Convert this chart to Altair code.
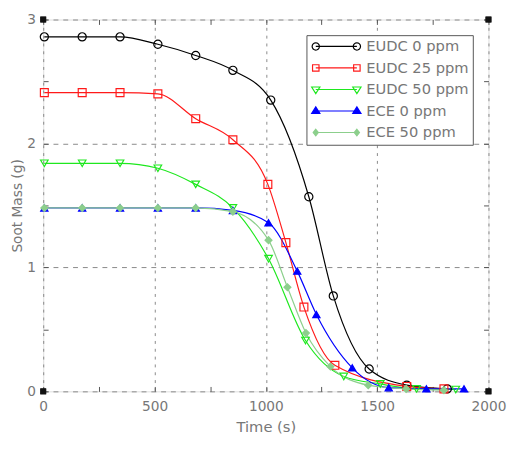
import math
import altair as alt
import pandas as pd

# ---------------- data ----------------
names = ["EUDC 0 ppm", "EUDC 25 ppm", "EUDC 50 ppm", "ECE 0 ppm", "ECE 50 ppm"]

t_eudc0 = [5, 175, 345, 515, 685, 852, 1022, 1193, 1303, 1464, 1633, 1815]
m_eudc0 = [2.86, 2.86, 2.86, 2.80, 2.71, 2.59, 2.35, 1.57, 0.77, 0.18, 0.05, 0.02]

t_eudc25 = [5, 175, 345, 515, 685, 852, 1009, 1090, 1171, 1310, 1633, 1800]
m_eudc25 = [2.41, 2.41, 2.41, 2.40, 2.20, 2.03, 1.67, 1.20, 0.68, 0.21, 0.04, 0.02]

t_eudc50 = [5, 175, 345, 515, 685, 852, 1012, 1178, 1350, 1514, 1677, 1853]
m_eudc50 = [1.84, 1.84, 1.84, 1.80, 1.67, 1.48, 1.07, 0.41, 0.12, 0.06, 0.02, 0.015]

t_ece0 = [5, 175, 345, 515, 685, 852, 1012, 1141, 1227, 1388, 1552, 1721, 1890]
m_ece0 = [1.48, 1.48, 1.48, 1.48, 1.48, 1.46, 1.36, 0.97, 0.62, 0.19, 0.03, 0.02, 0.02]

t_ece50 = [5, 175, 345, 515, 685, 852, 1012, 1097, 1180, 1290, 1460, 1630, 1800]
m_ece50 = [1.48, 1.48, 1.48, 1.48, 1.48, 1.45, 1.22, 0.84, 0.47, 0.20, 0.05, 0.02, 0.01]

corner_t = [0, 2000, 0, 2000]
corner_m = [0, 0, 3, 3]

x_ticks_major = [0, 500, 1000, 1500, 2000]
y_ticks_major = [0, 1, 2, 3]
x_ticks_minor = [0, 250, 500, 750, 1000, 1250, 1500, 1750, 2000]
y_ticks_minor = [0, 0.5, 1, 1.5, 2, 2.5, 3]

# ---------------- tables ----------------
series_t = [t_eudc0, t_eudc25, t_eudc50, t_ece0, t_ece50]
series_m = [m_eudc0, m_eudc25, m_eudc50, m_ece0, m_ece50]
rows = []
for name, ts, ms in zip(names, series_t, series_m):
    for i, (t, m) in enumerate(zip(ts, ms)):
        rows.append({"series": name, "t": t, "m": m, "order": i})
df = pd.DataFrame(rows)
corners = pd.DataFrame({"t": corner_t, "m": corner_m})

# ---------------- styles ----------------
FONT = "DejaVu Sans"
TXT = "#777777"
EDGE = "#555555"
W, H = 455, 380

colors = ["#000000", "#ff1a1a", "#1ee81e", "#0000ff", "#8ccf8c"]
fills = ["transparent", "transparent", "transparent", "#0000ff", "#8ccf8c"]
shapes = ["circle", "square", "triangle-down", "triangle-up", "diamond"]
sizes = [70, 50, 70, 75, 40]


# legend glyphs: line with a marker at each end (MATLAB style)
U1, U2 = -0.33, 6.67


def _poly(pts):
    return "M" + " L".join(f"{x:.3f},{y:.3f}" for x, y in pts) + " Z"


def _circle(cx, r=0.62):
    return _poly([(cx + r * math.cos(2 * math.pi * k / 16), r * math.sin(2 * math.pi * k / 16)) for k in range(16)])


def _square(cx, r=0.55):
    return _poly([(cx - r, -r), (cx + r, -r), (cx + r, r), (cx - r, r)])


def _tdown(cx, r=0.7):
    return _poly([(cx - r, -0.6 * r), (cx + r, -0.6 * r), (cx, r)])


def _tup(cx, r=0.7):
    return _poly([(cx - r, 0.6 * r), (cx + r, 0.6 * r), (cx, -r)])


def _diamond(cx, r=0.55):
    return _poly([(cx, -r), (cx + 0.8 * r, 0), (cx, r), (cx - 0.8 * r, 0)])


def _glyph(fn):
    return f"M{U1},0 L{U2},0 " + fn(U1) + " " + fn(U2)


legend_shapes = [_glyph(f) for f in (_circle, _square, _tdown, _tup, _diamond)]

xscale = alt.Scale(domain=[0, 2000], nice=False, zero=False)
yscale = alt.Scale(domain=[0, 3], nice=False, zero=False)

base = alt.Chart(df)

lines = base.mark_line(strokeWidth=1.2, interpolate="monotone").encode(
    x=alt.X("t:Q", scale=xscale, axis=alt.Axis(
        orient="bottom", values=x_ticks_major, format="d", grid=True, gridDash=[3, 5],
        gridColor="#888888", gridWidth=1, ticks=False, domain=False, labelFont=FONT,
        labelFontSize=14, labelColor=TXT, labelPadding=9, labelFlush=False, title="Time (s)",
        titleFont=FONT, titleFontSize=15, titleFontWeight="normal", titleColor=TXT, titlePadding=6)),
    y=alt.Y("m:Q", scale=yscale, axis=alt.Axis(
        orient="left", values=y_ticks_major, format="d", grid=True, gridDash=[5, 5],
        gridColor="#888888", gridWidth=1, ticks=False, domain=False, labelFont=FONT,
        labelFontSize=14, labelColor=TXT, labelPadding=8, labelFlush=False, title="Soot Mass (g)",
        titleFont=FONT, titleFontSize=14, titleFontWeight="normal", titleColor=TXT, titlePadding=2)),
    color=alt.Color("series:N", scale=alt.Scale(domain=names, range=colors), legend=None),
    detail="series:N",
    order="order:Q",
)

points = base.mark_point(strokeWidth=1.2, opacity=1).encode(
    x=alt.X("t:Q", scale=xscale, axis=None),
    y=alt.Y("m:Q", scale=yscale, axis=None),
    stroke=alt.Stroke("series:N", scale=alt.Scale(domain=names, range=colors), legend=None),
    fill=alt.Fill("series:N", scale=alt.Scale(domain=names, range=fills), legend=None),
    shape=alt.Shape("series:N", scale=alt.Scale(domain=names, range=shapes), legend=None),
    size=alt.Size("series:N", scale=alt.Scale(domain=names, range=sizes), legend=None),
)

tick_kw = dict(labels=False, domain=False, grid=False, ticks=True, tickSize=5,
               tickColor=EDGE, tickWidth=1, title=None)

corners_a = alt.Chart(corners).mark_square(size=36, color="#111111", opacity=1).encode(
    x=alt.X("t:Q", scale=xscale, axis=alt.Axis(orient="top", offset=-H, values=x_ticks_minor, **tick_kw)),
    y=alt.Y("m:Q", scale=yscale, axis=alt.Axis(orient="right", offset=-W, values=y_ticks_minor, **tick_kw)),
)

corners_b = alt.Chart(corners).mark_square(size=36, color="#111111", opacity=1).encode(
    x=alt.X("t:Q", scale=xscale, axis=alt.Axis(orient="bottom", offset=-H, values=x_ticks_minor, **tick_kw)),
    y=alt.Y("m:Q", scale=yscale, axis=alt.Axis(orient="left", offset=-W, values=y_ticks_minor, **tick_kw)),
)

legend_def = dict(
    orient="none", legendX=269, legendY=16, title=None,
    labelFont=FONT, labelFontSize=15, labelColor=TXT, labelOffset=42, labelLimit=300,
    padding=4, rowPadding=6, strokeColor=EDGE, fillColor="white",
    symbolSize=144, symbolStrokeWidth=1.2,
)

legend_layer = base.transform_filter("false").mark_point(size=144, strokeWidth=1.2, opacity=1).encode(
    x=alt.X("t:Q", scale=xscale, axis=None),
    y=alt.Y("m:Q", scale=yscale, axis=None),
    stroke=alt.Stroke("series:N", scale=alt.Scale(domain=names, range=colors), legend=alt.Legend(**legend_def)),
    fill=alt.Fill("series:N", scale=alt.Scale(domain=names, range=fills), legend=alt.Legend(**legend_def)),
    shape=alt.Shape("series:N", scale=alt.Scale(domain=names, range=legend_shapes), legend=alt.Legend(**legend_def)),
)

chart = (
    alt.layer(lines, points, corners_a, corners_b, legend_layer)
    .resolve_scale(shape="independent", fill="independent", stroke="independent", color="independent")
    .resolve_axis(x="independent", y="independent")
    .properties(width=W, height=H, autosize=alt.AutoSizeParams(type="none"),
                padding={"left": 36, "top": 7, "right": 22, "bottom": 48})
    .configure_view(stroke=EDGE, strokeWidth=1)
    .configure(background="white")
)

chart.save("out.html", embed_options={"renderer": "svg", "actions": False})
